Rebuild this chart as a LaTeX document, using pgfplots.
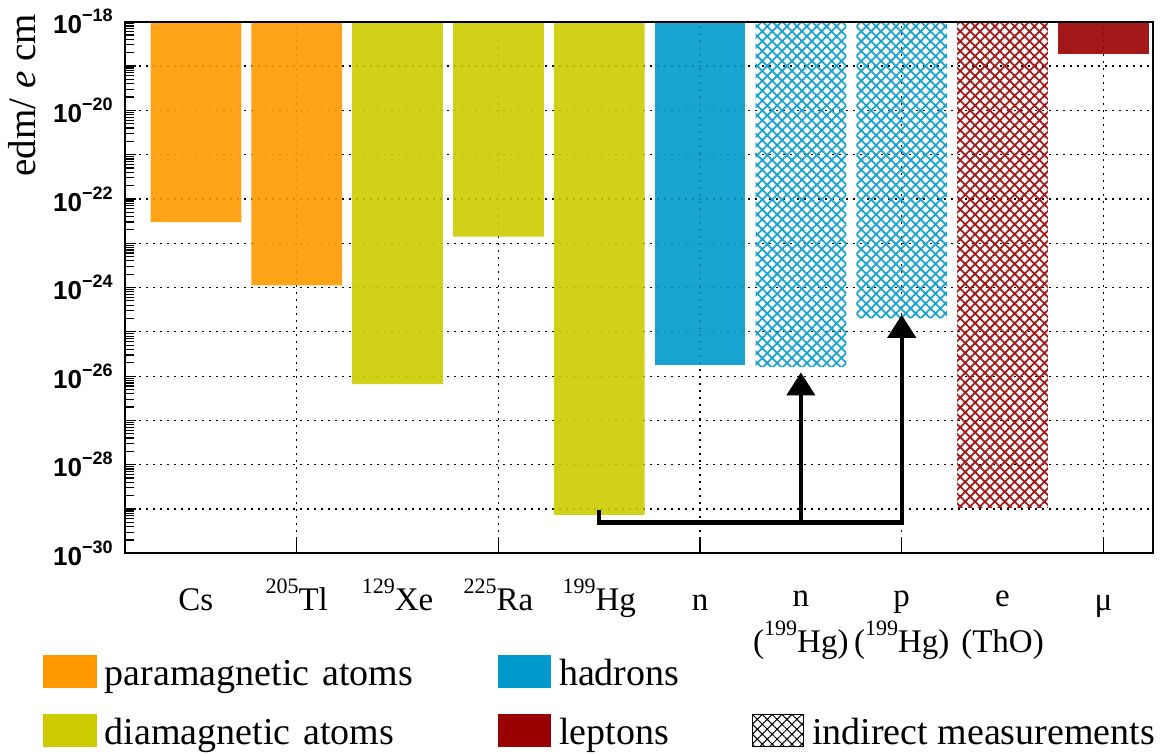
\documentclass[border=0pt]{standalone}
\usepackage{fontspec}
\setmainfont{Liberation Serif}
\setsansfont{Liberation Sans}
\usepackage{pgfplots}
\pgfplotsset{compat=1.18}
\usetikzlibrary{patterns.meta,arrows.meta}
\definecolor{para}{RGB}{255,153,0}
\definecolor{dia}{RGB}{204,204,0}
\definecolor{had}{RGB}{0,153,204}
\definecolor{lep}{RGB}{153,0,0}
\definecolor{hadL}{RGB}{26,163,209}
\definecolor{lepL}{RGB}{163,25,25}
\newcommand\ytl[1]{{\sffamily\bfseries\fontsize{13}{14}\selectfont 10\raisebox{6pt}{\fontsize{9}{10}\selectfont −#1}}}
\newcommand\sups[1]{\raisebox{8.25pt}{\fontsize{11}{11}\selectfont #1}}
\newcommand\lstrut{\rule{0pt}{18pt}}
\newcommand\mstrut{\rule{0pt}{16pt}}
\def\minorticks{2e-30}
\foreach \m in {3,...,9}{\xdef\minorticks{\minorticks,\m e-30}}
\foreach \e in {-29,...,-19}{\foreach \m in {2,...,9}{\xdef\minorticks{\minorticks,\m e\e}}}
\begin{document}
\begin{tikzpicture}
\path[use as bounding box] (-62.5pt,-100.35pt) rectangle (521.5pt,276.65pt);
\begin{axis}[
  at={(0pt,0pt)}, anchor=south west,
  scale only axis, width=514pt, height=265.8pt,
  ymode=log, log origin y=0,
  xmin=-0.703, xmax=9.492, ymin=1e-30, ymax=1e-18,
  axis line style={line width=1pt, black},
  tick align=inside, tick pos=left,
  every tick/.style={black, line width=0.6pt},
  major tick length=5.5pt, minor tick length=4.5pt,
  ytick={1e-30,1e-29,1e-28,1e-27,1e-26,1e-25,1e-24,1e-23,1e-22,1e-21,1e-20,1e-19,1e-18},
  yticklabels={\ytl{30},,\ytl{28},,\ytl{26},,\ytl{24},,\ytl{22},,\ytl{20},,\ytl{18}},
  minor ytick/.expand once=\minorticks,
  yticklabel style={anchor=east, inner sep=0pt, xshift=-6pt},
  xtick={0,1,2,3,4,5,6,7,8,9},
  xtick style={draw=none},
  xticklabels={\lstrut Cs, \lstrut\sups{205}Tl, \lstrut\sups{129}Xe, \lstrut\sups{225}Ra, \lstrut\sups{199}Hg, \lstrut n, \mstrut n\\(\sups{199}Hg), \mstrut p\\(\sups{199}Hg), \mstrut e\\(ThO), \lstrut μ},
  xticklabel style={anchor=north, inner sep=0pt, yshift=-10.35pt, align=center, font=\rmfamily\mdseries\fontsize{16.5}{23}\selectfont},
  extra x ticks={1,3,5,7,9},
  extra x tick labels={},
  extra x tick style={grid=major, major tick length=8pt, xtick style={draw=black}},
  ymajorgrids=true,
  major grid style={black, line width=0.6pt, dash pattern=on 1.2pt off 2.3pt},
  ylabel={edm/ \textit{e} cm},
  every axis y label/.style={at={(axis description cs:-0.0875,1.0277)}, rotate=90, anchor=base east, font=\rmfamily\mdseries\fontsize{19.5}{20}\selectfont},
  legend columns=3,
  legend cell align=left,
  legend style={draw=none, fill=none, inner sep=0pt, outer sep=0pt,
    at={(axis description cs:-0.0793,-0.1913)}, anchor=north west,
    row sep=13pt,
    font=\rmfamily\mdseries\fontsize{19}{22}\selectfont,
    nodes={inner sep=0pt, text height=14pt, text depth=0pt, anchor=west, font=\rmfamily\mdseries\fontsize{19}{22}\selectfont},
    /tikz/every odd column/.append style={column sep=4pt},
    /tikz/column 2/.style={text width=196.5pt},
    /tikz/column 4/.style={text width=96.5pt}},
]
\addlegendimage{legend image code/.code={\fill[para] (0pt,-8pt) rectangle (26.25pt,8pt);}}
\addlegendentry{paramagnetic atoms}
\addlegendimage{legend image code/.code={\fill[had] (0pt,-8pt) rectangle (26.25pt,8pt);}}
\addlegendentry{hadrons}
\addlegendimage{empty legend}
\addlegendentry{}
\addlegendimage{legend image code/.code={\fill[dia] (0pt,-8pt) rectangle (26.25pt,8pt);}}
\addlegendentry{diamagnetic atoms}
\addlegendimage{legend image code/.code={\fill[lep] (0pt,-8pt) rectangle (26.25pt,8pt);}}
\addlegendentry{leptons}
\addlegendimage{legend image code/.code={\fill[pattern={Hatch[angle=45,distance=3.5pt,line width=0.5pt]}, pattern color=black] (0pt,-8pt) rectangle (25.5pt,8pt);}}
\addlegendentry{indirect measurements}

% paramagnetic atoms
\addplot[forget plot, ybar, bar width=0.9, bar shift=0pt, draw=none, fill=para, fill opacity=0.9]
  coordinates {(0,3.0e-23) (1,1.12e-24)};
% diamagnetic atoms
\addplot[forget plot, ybar, bar width=0.9, bar shift=0pt, draw=none, fill=dia, fill opacity=0.9]
  coordinates {(2,6.6e-27) (3,1.4e-23) (4,7.4e-30)};
% hadrons (direct)
\addplot[forget plot, ybar, bar width=0.9, bar shift=0pt, draw=none, fill=had, fill opacity=0.9]
  coordinates {(5,1.75e-26)};
% hadrons (indirect, from 199Hg)
\addplot[forget plot, ybar, bar width=0.9, bar shift=0pt, draw=none,
  pattern={Hatch[angle=45,distance=3.5pt,line width=0.9pt]}, pattern color=hadL]
  coordinates {(6,1.6e-26) (7,2.0e-25)};
% electron (indirect, ThO)
\addplot[forget plot, ybar, bar width=0.9, bar shift=0pt, draw=none,
  pattern={Hatch[angle=45,distance=3.5pt,line width=0.9pt]}, pattern color=lepL]
  coordinates {(8,1.1e-29)};
% muon
\addplot[forget plot, ybar, bar width=0.9, bar shift=0pt, draw=none, fill=lep, fill opacity=0.9]
  coordinates {(9,1.9e-19)};

\draw[line width=2.2pt, line join=miter, -{Triangle[length=11.5pt,width=14pt]}]
  (axis cs:4,9.7e-30) |- (axis cs:7,5e-30) -- (axis cs:7,2.42e-25);
\draw[line width=2.2pt, -{Triangle[length=11.5pt,width=14pt]}]
  (axis cs:6,5e-30) -- (axis cs:6,1.21e-26);
\draw[line width=1pt] (rel axis cs:0,1) -- (rel axis cs:1,1);
\end{axis}
\end{tikzpicture}
\end{document}
